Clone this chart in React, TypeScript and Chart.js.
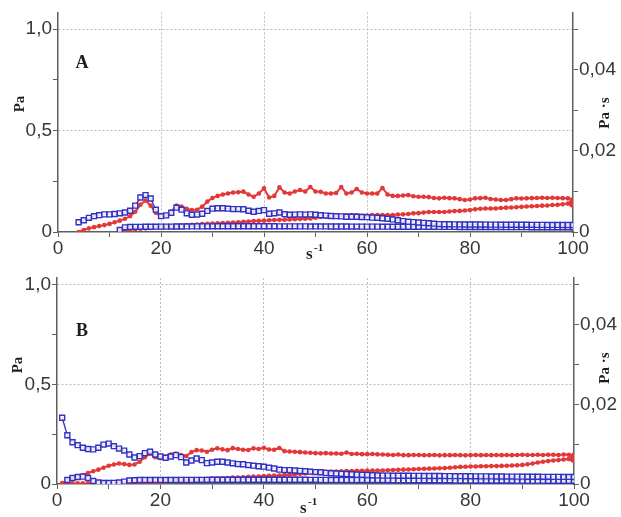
import React, { useEffect, useRef } from 'react';
import { Chart, registerables } from 'chart.js';

Chart.register(...registerables);

// ---------- Panel A data ----------
const X_UP_A = [
  4, 5, 6, 7, 8, 9, 10, 11, 12, 13,
  14, 15, 16, 17, 18, 19, 20, 21, 22, 23,
  24, 25, 26, 27, 28, 29, 30, 31, 32, 33,
  34, 35, 36, 37, 38, 39, 40, 41, 42, 43,
  44, 45, 46, 47, 48, 49, 50, 51, 52, 53,
  54, 55, 56, 57, 58, 59, 60, 61, 62, 63,
  64, 65, 66, 67, 68, 69, 70, 71, 72, 73,
  74, 75, 76, 77, 78, 79, 80, 81, 82, 83,
  84, 85, 86, 87, 88, 89, 90, 91, 92, 93,
  94, 95, 96, 97, 98, 99, 100,
];
const RED_UP_A = [
  0.000, 0.010, 0.018, 0.024, 0.029, 0.034, 0.040, 0.048, 0.056, 0.065,
  0.078, 0.100, 0.135, 0.155, 0.130, 0.095, 0.078, 0.082, 0.100, 0.130,
  0.125, 0.115, 0.108, 0.110, 0.125, 0.150, 0.168, 0.178, 0.185, 0.190,
  0.195, 0.196, 0.199, 0.185, 0.174, 0.190, 0.215, 0.170, 0.178, 0.220,
  0.195, 0.190, 0.200, 0.207, 0.200, 0.222, 0.200, 0.198, 0.190, 0.190,
  0.192, 0.222, 0.190, 0.195, 0.212, 0.195, 0.190, 0.190, 0.190, 0.217,
  0.185, 0.178, 0.178, 0.180, 0.182, 0.176, 0.174, 0.174, 0.172, 0.168,
  0.166, 0.169, 0.167, 0.166, 0.162, 0.158, 0.160, 0.166, 0.167, 0.169,
  0.163, 0.160, 0.158, 0.158, 0.162, 0.166, 0.165, 0.166, 0.167, 0.168,
  0.169, 0.168, 0.169, 0.168, 0.167, 0.166, 0.162,
];
const BLUE_UP_A = [
  0.0024, 0.0029, 0.0035, 0.0039, 0.00415, 0.00435, 0.00435, 0.00445, 0.0046, 0.0048,
  0.00525, 0.0065, 0.0085, 0.0091, 0.00825, 0.0055, 0.0039, 0.0041, 0.00475, 0.006,
  0.0055, 0.0046, 0.00425, 0.0043, 0.0045, 0.0052, 0.00575, 0.00585, 0.00585, 0.00575,
  0.00565, 0.00565, 0.0056, 0.00525, 0.005, 0.0052, 0.0054, 0.0045, 0.0046, 0.0048,
  0.0044, 0.00425, 0.0043, 0.00435, 0.0043, 0.00435, 0.00425, 0.00415, 0.00405, 0.00395,
  0.0039, 0.00385, 0.00375, 0.00375, 0.00375, 0.0037, 0.00365, 0.00355, 0.0035, 0.0034,
  0.00325, 0.0031, 0.0029, 0.0027, 0.00255, 0.00245, 0.00235, 0.00225, 0.00215, 0.00205,
  0.00195, 0.0019, 0.0019, 0.00188, 0.00187, 0.00186, 0.00185, 0.00185, 0.00184, 0.00183,
  0.00182, 0.00182, 0.00181, 0.0018, 0.0018, 0.00179, 0.00178, 0.00178, 0.00177, 0.00176,
  0.00176, 0.00175, 0.00174, 0.00174, 0.00173, 0.00172, 0.00172,
];
const X_DOWN_A = [
  100, 99, 98, 97, 96, 95, 94, 93, 92, 91,
  90, 89, 88, 87, 86, 85, 84, 83, 82, 81,
  80, 79, 78, 77, 76, 75, 74, 73, 72, 71,
  70, 69, 68, 67, 66, 65, 64, 63, 62, 61,
  60, 59, 58, 57, 56, 55, 54, 53, 52, 51,
  50, 49, 48, 47, 46, 45, 44, 43, 42, 41,
  40, 39, 38, 37, 36, 35, 34, 33, 32, 31,
  30, 29, 28, 27, 26, 25, 24, 23, 22, 21,
  20, 19, 18, 17, 16, 15, 14, 13, 12,
];
const RED_DOWN_A = [
  0.142, 0.140, 0.137, 0.134, 0.133, 0.131, 0.130, 0.128, 0.127, 0.126,
  0.124, 0.122, 0.121, 0.120, 0.118, 0.116, 0.116, 0.116, 0.115, 0.112,
  0.108, 0.106, 0.104, 0.103, 0.101, 0.099, 0.099, 0.099, 0.099, 0.096,
  0.093, 0.092, 0.089, 0.087, 0.086, 0.084, 0.084, 0.084, 0.084, 0.083,
  0.081, 0.080, 0.082, 0.084, 0.082, 0.078, 0.075, 0.075, 0.075, 0.074,
  0.070, 0.067, 0.065, 0.064, 0.063, 0.062, 0.061, 0.060, 0.059, 0.058,
  0.056, 0.055, 0.054, 0.052, 0.050, 0.048, 0.047, 0.045, 0.044, 0.043,
  0.042, 0.041, 0.039, 0.037, 0.035, 0.034, 0.032, 0.030, 0.028, 0.026,
  0.024, 0.022, 0.020, 0.018, 0.016, 0.014, 0.012, 0.010, 0.008,
];
const BLUE_DOWN_A = [
  0.00115, 0.00115, 0.00116, 0.00116, 0.00117, 0.00117, 0.00118, 0.00118, 0.00118, 0.00119,
  0.00119, 0.0012, 0.0012, 0.0012, 0.00121, 0.00121, 0.00122, 0.00122, 0.00122, 0.00123,
  0.00123, 0.00124, 0.00124, 0.00125, 0.00125, 0.00126, 0.00126, 0.00127, 0.00127, 0.00128,
  0.00128, 0.00129, 0.00129, 0.0013, 0.0013, 0.0013, 0.00131, 0.00131, 0.00132, 0.00132,
  0.00133, 0.00133, 0.00134, 0.00134, 0.00135, 0.00135, 0.00136, 0.00136, 0.00137, 0.00137,
  0.00138, 0.00138, 0.00139, 0.00139, 0.0014, 0.0014, 0.0014, 0.0014, 0.00141, 0.00141,
  0.00141, 0.00141, 0.00142, 0.00142, 0.00142, 0.00142, 0.00142, 0.00141, 0.00141, 0.00141,
  0.0014, 0.0014, 0.00139, 0.00139, 0.00138, 0.00137, 0.00136, 0.00135, 0.00134, 0.00133,
  0.00132, 0.00131, 0.0013, 0.00129, 0.00128, 0.00127, 0.00125, 0.00115, 0.0005,
];

// ---------- Panel B data ----------
const X_UP_B = [
  1, 2, 3, 4, 5, 6, 7, 8, 9, 10,
  11, 12, 13, 14, 15, 16, 17, 18, 19, 20,
  21, 22, 23, 24, 25, 26, 27, 28, 29, 30,
  31, 32, 33, 34, 35, 36, 37, 38, 39, 40,
  41, 42, 43, 44, 45, 46, 47, 48, 49, 50,
  51, 52, 53, 54, 55, 56, 57, 58, 59, 60,
  61, 62, 63, 64, 65, 66, 67, 68, 69, 70,
  71, 72, 73, 74, 75, 76, 77, 78, 79, 80,
  81, 82, 83, 84, 85, 86, 87, 88, 89, 90,
  91, 92, 93, 94, 95, 96, 97, 98, 99, 100,
];
const RED_UP_B = [
  0.005, 0.015, 0.025, 0.035, 0.045, 0.055, 0.064, 0.072, 0.082, 0.092,
  0.098, 0.103, 0.100, 0.096, 0.098, 0.112, 0.135, 0.152, 0.135, 0.130,
  0.138, 0.148, 0.153, 0.145, 0.140, 0.160, 0.170, 0.168, 0.162, 0.172,
  0.179, 0.174, 0.170, 0.180, 0.176, 0.172, 0.171, 0.179, 0.176, 0.182,
  0.173, 0.172, 0.181, 0.165, 0.163, 0.162, 0.160, 0.158, 0.157, 0.155,
  0.154, 0.155, 0.153, 0.153, 0.152, 0.158, 0.151, 0.152, 0.150, 0.150,
  0.151, 0.149, 0.148, 0.147, 0.146, 0.148, 0.145, 0.145, 0.146, 0.146,
  0.145, 0.145, 0.146, 0.144, 0.145, 0.145, 0.146, 0.145, 0.144, 0.145,
  0.146, 0.145, 0.146, 0.145, 0.146, 0.145, 0.146, 0.145, 0.146, 0.147,
  0.146, 0.146, 0.147, 0.146, 0.147, 0.147, 0.146, 0.148, 0.147, 0.148,
];
const BLUE_UP_B = [
  0.01665, 0.01225, 0.0105, 0.00975, 0.0091, 0.0088, 0.0087, 0.0091, 0.0099, 0.01015,
  0.0095, 0.0089, 0.0084, 0.0074, 0.00665, 0.007, 0.00775, 0.0081, 0.0074, 0.0069,
  0.0066, 0.0069, 0.00725, 0.00675, 0.0054, 0.0059, 0.0064, 0.006, 0.00525, 0.0054,
  0.0056, 0.0056, 0.0054, 0.0052, 0.005, 0.00495, 0.00475, 0.0046, 0.00445, 0.00435,
  0.0041, 0.0039, 0.0036, 0.0035, 0.0035, 0.0034, 0.0033, 0.0032, 0.0031, 0.003,
  0.00295, 0.0028, 0.0027, 0.00265, 0.00255, 0.0025, 0.00245, 0.00235, 0.0023, 0.00225,
  0.0022, 0.00215, 0.0021, 0.0021, 0.00209, 0.00208, 0.00207, 0.00206, 0.00205, 0.00204,
  0.00203, 0.00202, 0.00201, 0.002, 0.00199, 0.00198, 0.00197, 0.00196, 0.00195, 0.00194,
  0.00193, 0.00192, 0.00191, 0.0019, 0.00189, 0.00188, 0.00187, 0.00186, 0.00185, 0.00184,
  0.00183, 0.00182, 0.00181, 0.0018, 0.0018, 0.00179, 0.00179, 0.00178, 0.00178, 0.00177,
];
const X_DOWN_B = [
  100, 99, 98, 97, 96, 95, 94, 93, 92, 91,
  90, 89, 88, 87, 86, 85, 84, 83, 82, 81,
  80, 79, 78, 77, 76, 75, 74, 73, 72, 71,
  70, 69, 68, 67, 66, 65, 64, 63, 62, 61,
  60, 59, 58, 57, 56, 55, 54, 53, 52, 51,
  50, 49, 48, 47, 46, 45, 44, 43, 42, 41,
  40, 39, 38, 37, 36, 35, 34, 33, 32, 31,
  30, 29, 28, 27, 26, 25, 24, 23, 22, 21,
  20, 19, 18, 17, 16, 15, 14, 13, 12, 11,
  10, 9, 8, 7, 6, 5, 4, 3, 2,
];
const RED_DOWN_B = [
  0.128, 0.126, 0.123, 0.120, 0.118, 0.115, 0.112, 0.108, 0.103, 0.099,
  0.096, 0.094, 0.093, 0.092, 0.091, 0.090, 0.090, 0.089, 0.089, 0.088,
  0.088, 0.087, 0.086, 0.084, 0.082, 0.080, 0.079, 0.078, 0.077, 0.076,
  0.075, 0.074, 0.073, 0.072, 0.071, 0.070, 0.069, 0.068, 0.068, 0.067,
  0.067, 0.066, 0.066, 0.065, 0.065, 0.064, 0.063, 0.062, 0.061, 0.060,
  0.058, 0.056, 0.053, 0.051, 0.048, 0.046, 0.045, 0.043, 0.042, 0.041,
  0.040, 0.038, 0.037, 0.036, 0.034, 0.033, 0.032, 0.030, 0.029, 0.028,
  0.027, 0.026, 0.024, 0.023, 0.021, 0.020, 0.018, 0.017, 0.015, 0.013,
  0.011, 0.009, 0.008, 0.007, 0.006, 0.005, 0.004, 0.004, 0.003, 0.003,
  0.003, 0.003, 0.003, 0.003, 0.003, 0.003, 0.003, 0.003, 0.003,
];
const BLUE_DOWN_B = [
  0.0008, 0.0008, 0.00081, 0.00081, 0.00082, 0.00082, 0.00083, 0.00083, 0.00084, 0.00084,
  0.00085, 0.00085, 0.00086, 0.00086, 0.00087, 0.00087, 0.00088, 0.00088, 0.00089, 0.00089,
  0.0009, 0.0009, 0.00091, 0.00091, 0.00092, 0.00092, 0.00093, 0.00093, 0.00094, 0.00094,
  0.00095, 0.00095, 0.00096, 0.00096, 0.00097, 0.00097, 0.00098, 0.00098, 0.00099, 0.00099,
  0.001, 0.001, 0.00101, 0.00101, 0.00102, 0.00102, 0.00103, 0.00103, 0.00104, 0.00104,
  0.00105, 0.00105, 0.00106, 0.00106, 0.00106, 0.00107, 0.00107, 0.00107, 0.00108, 0.00108,
  0.00108, 0.00108, 0.00108, 0.00108, 0.00108, 0.00107, 0.00107, 0.00107, 0.00106, 0.00106,
  0.00106, 0.00105, 0.00105, 0.00105, 0.00104, 0.00104, 0.00104, 0.00103, 0.00103, 0.00103,
  0.00102, 0.00102, 0.00101, 0.00101, 0.001, 0.00095, 0.0009, 0.0006, 0.0004, 0.0003,
  0.00025, 0.00025, 0.0004, 0.00075, 0.0015, 0.00185, 0.00175, 0.0015, 0.001,
];

// ---------- Axis ticks ----------
const X_LABELS = [0, 20, 40, 60, 80, 100];
const X_GRID = [20, 40, 60, 80];
const Y_LABELS: Record<number, string> = { 0: '0', 50: '0,5', 100: '1,0' };
const Y_GRID = [50, 100];
const Y2_LABELS: Record<number, string> = { 0: '0', 20: '0,02', 40: '0,04' };

// ---------- Styles ----------
const RED = 'rgb(226,56,56)';
const BLUE = 'rgb(48,48,196)';
const GRID = 'rgb(190,190,190)';
const AXIS = 'rgb(95,95,95)';
const TICK_TEXT = 'rgb(55,55,55)';
const TICK_FONT = { family: '"Liberation Sans", Arial, sans-serif', size: 19 };

type PanelProps = {
  top: number;
  height: number;
  padTop: number;
  leftW: number;
  rightW: number;
  bottomH: number;
  yMax: number;
  y2Max: number;
  letter: string;
  letterPos: [number, number];
  paPos: [number, number];
  pasPos: [number, number];
  sPos: [number, number];
  xUp: number[];
  redUp: number[];
  blueUp: number[];
  xDown: number[];
  redDown: number[];
  blueDown: number[];
};

const pts = (xs: number[], ys: number[]) => xs.map((x, i) => ({ x, y: ys[i] }));

function Panel(p: PanelProps) {
  const ref = useRef<HTMLCanvasElement | null>(null);
  useEffect(() => {
    if (!ref.current) return;
    const textPlugin = {
      id: 'panelText',
      afterDraw(chart: any) {
        const ctx = chart.ctx as CanvasRenderingContext2D;
        ctx.save();
        ctx.fillStyle = '#1e1e1e';
        ctx.textAlign = 'center';
        ctx.textBaseline = 'middle';
        ctx.font = 'bold 18px "Liberation Serif", "Times New Roman", serif';
        ctx.fillText(p.letter, p.letterPos[0], p.letterPos[1]);

        ctx.font = 'bold 15px "Liberation Serif", "Times New Roman", serif';
        ctx.save();
        ctx.translate(p.paPos[0], p.paPos[1]);
        ctx.rotate(-Math.PI / 2);
        ctx.fillText('Pa', 0, 0);
        ctx.restore();

        ctx.save();
        ctx.translate(p.pasPos[0], p.pasPos[1]);
        ctx.rotate(-Math.PI / 2);
        ctx.fillText('Pa ·s', 0, 0);
        ctx.restore();

        ctx.textAlign = 'left';
        ctx.textBaseline = 'alphabetic';
        ctx.font = 'bold 17px "Liberation Serif", "Times New Roman", serif';
        ctx.fillText('s', p.sPos[0], p.sPos[1]);
        ctx.font = 'bold 11px "Liberation Serif", "Times New Roman", serif';
        ctx.fillText('-1', p.sPos[0] + 8, p.sPos[1] - 8);
        ctx.restore();
      },
    };

    const blueStyle = {
      yAxisID: 'y2',
      borderColor: BLUE,
      borderWidth: 1.3,
      pointStyle: 'rect',
      pointRadius: 3.5,
      pointBorderWidth: 1.4,
      pointBorderColor: BLUE,
      pointBackgroundColor: 'rgba(255,255,255,0.85)',
      tension: 0,
    };
    const redStyle = {
      yAxisID: 'y',
      borderColor: RED,
      borderWidth: 2,
      pointBackgroundColor: RED,
      pointBorderColor: RED,
      tension: 0,
    };

    const chart = new Chart(ref.current, {
      type: 'line',
      data: {
        datasets: [
          { ...blueStyle, data: pts(p.xUp, p.blueUp) },
          { ...blueStyle, data: pts(p.xDown, p.blueDown) },
          { ...redStyle, data: pts(p.xUp, p.redUp), pointRadius: 1.3 },
          {
            ...redStyle,
            data: pts(p.xDown, p.redDown),
            pointRadius: (c: any) => (c.dataIndex === 0 ? 3.5 : 1.3),
          },
        ],
      },
      options: {
        animation: false,
        responsive: false,
        maintainAspectRatio: false,
        layout: { padding: { top: p.padTop, left: 0, right: 0, bottom: 0 } },
        plugins: { legend: { display: false }, tooltip: { enabled: false } },
        scales: {
          x: {
            type: 'linear',
            min: 0,
            max: 100,
            afterFit: (s: any) => { s.height = p.bottomH; },
            ticks: {
              stepSize: 10,
              autoSkip: false,
              maxRotation: 0,
              padding: 0,
              color: TICK_TEXT,
              font: TICK_FONT,
              callback: (v: any) => (X_LABELS.includes(Math.round(v)) ? String(Math.round(v)) : ''),
            },
            grid: {
              color: (c: any) => (c.tick && X_GRID.includes(Math.round(c.tick.value)) ? GRID : 'rgba(0,0,0,0)'),
              tickColor: AXIS,
              tickLength: 5,
              lineWidth: 1,
            },
            border: { display: true, color: AXIS, width: 1.5, dash: [2, 2] },
          },
          y: {
            type: 'linear',
            position: 'left',
            min: 0,
            max: p.yMax,
            afterFit: (s: any) => { s.width = p.leftW; },
            ticks: {
              stepSize: 0.25,
              includeBounds: false,
              autoSkip: false,
              padding: 1,
              color: TICK_TEXT,
              font: TICK_FONT,
              callback: (v: any) => Y_LABELS[Math.round(v * 100)] ?? '',
            },
            grid: {
              color: (c: any) => (c.tick && Y_GRID.includes(Math.round(c.tick.value * 100)) ? GRID : 'rgba(0,0,0,0)'),
              tickColor: AXIS,
              tickLength: 5,
              lineWidth: 1,
            },
            border: { display: true, color: AXIS, width: 1.5, dash: [2, 2] },
          },
          y2: {
            type: 'linear',
            position: 'right',
            min: 0,
            max: p.y2Max,
            afterFit: (s: any) => { s.width = p.rightW; },
            ticks: {
              stepSize: 0.01,
              includeBounds: false,
              autoSkip: false,
              padding: 1,
              color: TICK_TEXT,
              font: TICK_FONT,
              callback: (v: any) => Y2_LABELS[Math.round(v * 1000)] ?? '',
            },
            grid: {
              drawOnChartArea: false,
              tickColor: AXIS,
              tickLength: 5,
              lineWidth: 1,
            },
            border: { display: true, color: AXIS, width: 1.5 },
          },
        },
      },
      plugins: [textPlugin],
    } as any);
    return () => chart.destroy();
  }, []);
  return (
    <canvas
      ref={ref}
      width={621}
      height={p.height}
      style={{ position: 'absolute', left: 0, top: p.top, width: 621, height: p.height }}
    />
  );
}

export default function App() {
  return (
    <div style={{ position: 'absolute', left: 0, top: 0, width: 621, height: 517, background: '#fff', overflow: 'hidden' }}>
      <Panel
        top={0}
        height={265}
        padTop={12}
        leftW={58}
        rightW={48}
        bottomH={33}
        yMax={1.083}
        y2Max={0.05415}
        letter="A"
        letterPos={[82, 63]}
        paPos={[20, 104]}
        pasPos={[605, 113]}
        sPos={[306, 259]}
        xUp={X_UP_A}
        redUp={RED_UP_A}
        blueUp={BLUE_UP_A}
        xDown={X_DOWN_A}
        redDown={RED_DOWN_A}
        blueDown={BLUE_DOWN_A}
      />
      <Panel
        top={258}
        height={259}
        padTop={20}
        leftW={57}
        rightW={47}
        bottomH={33}
        yMax={1.035}
        y2Max={0.05175}
        letter="B"
        letterPos={[82, 73]}
        paPos={[18, 107]}
        pasPos={[605, 110]}
        sPos={[300, 255]}
        xUp={X_UP_B}
        redUp={RED_UP_B}
        blueUp={BLUE_UP_B}
        xDown={X_DOWN_B}
        redDown={RED_DOWN_B}
        blueDown={BLUE_DOWN_B}
      />
    </div>
  );
}
